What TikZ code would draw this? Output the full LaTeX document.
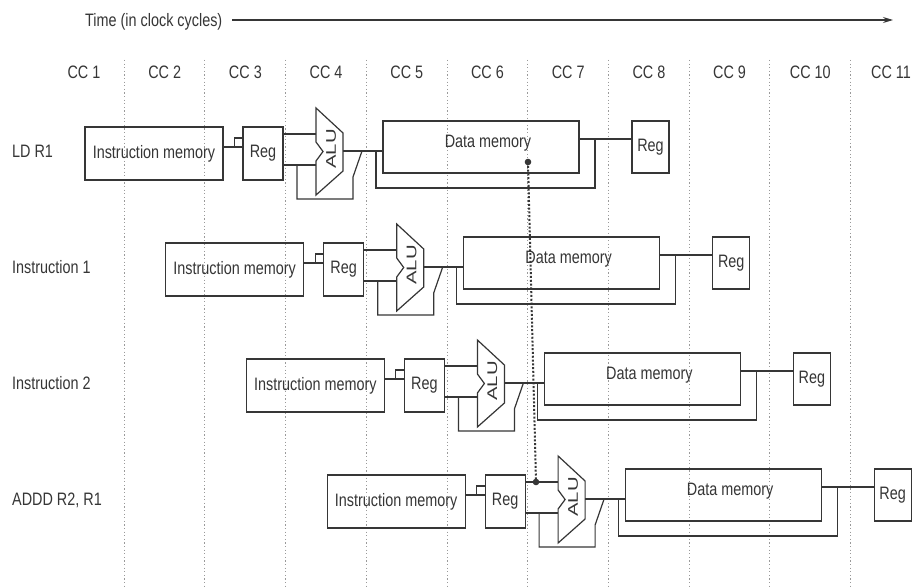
\documentclass[tikz,border=0pt]{standalone}
\usepackage{fontspec}
\setmainfont[FakeStretch=0.8]{Liberation Sans}
\newfontfamily\alufont[FakeStretch=1.45]{Liberation Sans}
\usetikzlibrary{arrows.meta}
\definecolor{ink}{HTML}{363636}
\definecolor{gridc}{HTML}{9A9A9A}
\begin{document}
\begin{tikzpicture}[x=1pt,y=-1pt,
  txt/.style={font=\fontsize{18}{21}\selectfont, text=ink, inner sep=0pt},
  box/.style={draw=ink, line width=1.2pt, inner sep=0pt, font=\fontsize{18}{21}\selectfont, text=ink},
  wire/.style={draw=ink, line width=1.2pt},
  gridline/.style={draw=gridc, line width=0.6pt, dash pattern=on 1.2pt off 2.4pt},
  fwd/.style={draw=ink, line width=2pt, dash pattern=on 2pt off 1.8pt},
  alutxt/.style={font=\alufont\fontsize{14}{15}\selectfont, text=ink, inner sep=0pt, rotate=90}
]
\useasboundingbox[fill=white] (0,0) rectangle (915,586);
% grid
\foreach \k in {0,...,9}
  \draw[gridline] (124+80.7*\k,60) -- (124+80.7*\k,586);
% header
\node[txt, anchor=base west] (time) at (85,26.5) {Time (in clock cycles)};
\coordinate (tstart) at (232,20);
\coordinate (tend) at (893,20);
\draw[wire, -{Stealth[length=10pt,width=6pt]}] (tstart) -- (tend);
\foreach \k in {1,...,11}
  \node[txt, anchor=base] (cc\k) at (84+80.7*\k-80.7,78.5) {CC \k};
% rows
\foreach \r/\lab in {0/LD R1,1/Instruction 1,2/Instruction 2,3/{ADDD R2, R1}} {
  \node[txt, anchor=base west] (lab\r) at (12,157.5+116*\r) {\lab};
  \begin{scope}[shift={(80.7*\r,116*\r)}]
    \node[box, minimum width=138pt, minimum height=53pt] (im\r) at (154,153.5) {Instruction memory};
    \node[box, minimum width=40pt, minimum height=53pt] (rega\r) at (263,153.5) {Reg};
    \draw[wire] ([yshift=6.5pt]im\r.east) -- ([yshift=6.5pt]rega\r.west);
    \draw[wire] ([xshift=-8pt,yshift=6.5pt]rega\r.west) |- ([yshift=15.5pt]rega\r.west);
    % ALU
    \coordinate (aluin1\r) at (316,134);
    \coordinate (aluin2\r) at (316,165);
    \coordinate (aluout\r) at (343,151);
    \draw[wire, line join=miter] (316,108) -- (343,133) -- (343,171) -- (316,195) -- (316,161) -- (323,151.5) -- (316,142) -- cycle;
    \node[alutxt] (alu\r) at (331,149) {ALU};
    \draw[wire] ([yshift=19.5pt]rega\r.east) -- (aluin1\r);
    \draw[wire] ([yshift=-11.5pt]rega\r.east) -- (aluin2\r);
    \coordinate (fb\r) at (297,165);
    \coordinate (sw\r) at (362,151);
    \draw[wire] (fb\r) -- ++(0,34) -- ++(56,0) -- ++(0,-22) -- (sw\r);
    % data memory
    \node[box, minimum width=196pt, minimum height=52pt,
          label={[txt, xshift=7pt, yshift=4pt]center:Data memory}] (dm\r) at (481,147) {};
    \draw[wire] (aluout\r) -- (dm\r.west |- aluout\r);
    \coordinate (byp\r) at (376,151);
    \node[box, minimum width=37pt, minimum height=52pt] (regb\r) at (650.5,147) {Reg};
    \draw[wire] ([yshift=8pt]dm\r.east) -- ([yshift=8pt]regb\r.west);
    \coordinate (tap\r) at (595,139);
    \draw[wire] (byp\r) |- ([yshift=-49pt]tap\r) -- (tap\r);
  \end{scope}
}
% forwarding
\coordinate (dot1) at (528,162);
\coordinate (dot2) at (536,482);
\draw[fwd] (dot1) -- (dot2);
\fill[ink] (dot1) circle (3.3pt);
\fill[ink] (dot2) circle (3.3pt);
\end{tikzpicture}
\end{document}
